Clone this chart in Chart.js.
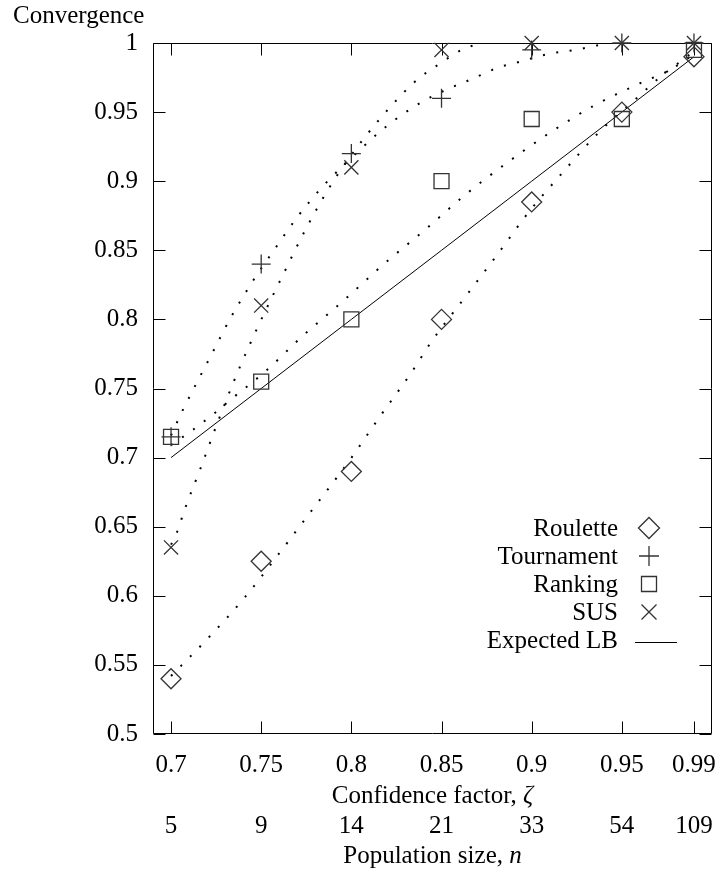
<!DOCTYPE html>
<html>
<head>
<meta charset="utf-8">
<script src="https://cdn.jsdelivr.net/npm/chart.js@4.4.1/dist/chart.umd.min.js"></script>
<style>
  html, body { margin: 0; padding: 0; background: #fff; }
  #wrap { width: 717px; height: 875px; }
</style>
</head>
<body>
<div id="wrap"><canvas id="convChart" width="717" height="875"></canvas></div>
<script>
// x positions (confidence factor) and the matching population sizes
const confidence = [0.7, 0.75, 0.8, 0.85, 0.9, 0.95, 0.99];
const confidenceLabels = ['0.7', '0.75', '0.8', '0.85', '0.9', '0.95', '0.99'];
const populationLabels = ['5', '9', '14', '21', '33', '54', '109'];
const yTickValues = [0.5, 0.55, 0.6, 0.65, 0.7, 0.75, 0.8, 0.85, 0.9, 0.95, 1];
const yTickLabels = ['0.5', '0.55', '0.6', '0.65', '0.7', '0.75', '0.8', '0.85', '0.9', '0.95', '1'];

// measured convergence per selection scheme
const roulette   = [0.54, 0.625, 0.69, 0.80, 0.885, 0.95, 0.99];
const tournament = [0.715, 0.84, 0.92, 0.96, 0.995, 1.0, 1.0];
const ranking    = [0.715, 0.755, 0.80, 0.90, 0.945, 0.945, 0.995];
const sus        = [0.635, 0.81, 0.91, 0.995, 1.0, 1.0, 1.0];
const expectedLB = [0.70, 0.75, 0.80, 0.85, 0.90, 0.95, 0.99];

// fitted trend curves, [confidence, convergence]
const rouletteFit = [
  [0.700, 0.542], [0.721, 0.570], [0.741, 0.599], [0.759, 0.629], [0.777, 0.660],
  [0.799, 0.698], [0.816, 0.730], [0.833, 0.761], [0.845, 0.785], [0.863, 0.816],
  [0.881, 0.847], [0.898, 0.877], [0.917, 0.906], [0.937, 0.935], [0.959, 0.961],
  [0.970, 0.974], [0.988, 0.992]
];
const rankingFit = [
  [0.700, 0.709], [0.712, 0.720], [0.723, 0.731], [0.735, 0.744], [0.752, 0.762],
  [0.773, 0.788], [0.796, 0.814], [0.818, 0.840], [0.841, 0.865], [0.863, 0.890],
  [0.886, 0.913], [0.910, 0.935], [0.935, 0.955], [0.962, 0.972], [0.976, 0.980],
  [0.988, 0.990]
];
const susFit = [
  [0.700, 0.637], [0.703, 0.645], [0.708, 0.664], [0.716, 0.691], [0.726, 0.726],
  [0.737, 0.762], [0.749, 0.797], [0.762, 0.832], [0.775, 0.866], [0.790, 0.900],
  [0.807, 0.931], [0.826, 0.960], [0.837, 0.974], [0.849, 0.985], [0.861, 0.995],
  [0.872, 1.000]
];
const tournamentFit = [
  [0.700, 0.716], [0.706, 0.733], [0.713, 0.751], [0.723, 0.776], [0.733, 0.801],
  [0.745, 0.827], [0.757, 0.850], [0.770, 0.874], [0.784, 0.896], [0.805, 0.923],
  [0.816, 0.936], [0.828, 0.948], [0.840, 0.958], [0.854, 0.967], [0.867, 0.974],
  [0.881, 0.982], [0.895, 0.987], [0.909, 0.992], [0.924, 0.995], [0.939, 0.999]
];

const legendItems = [
  { label: 'Roulette', style: 'rectRot', r: 10.5 },
  { label: 'Tournament', style: 'cross', r: 10 },
  { label: 'Ranking', style: 'rect', r: 10.6 },
  { label: 'SUS', style: 'crossRot', r: 10.6 },
  { label: 'Expected LB', style: 'line' }
];

const FAMILY = "'Liberation Serif', 'Times New Roman', serif";
const FSIZE = 25;
const MARK = '#333';

const toXY = (xs, ys) => xs.map((x, i) => ({ x: x, y: ys[i] }));
const pairs = arr => arr.map(p => ({ x: p[0], y: p[1] }));

function markerSet(label, ys, style, radius) {
  return {
    label: label,
    data: toXY(confidence, ys),
    showLine: false,
    pointStyle: style,
    pointRadius: radius,
    pointBorderColor: MARK,
    pointBackgroundColor: 'rgba(0,0,0,0)',
    pointBorderWidth: 1.3,
    clip: false,
    order: 0
  };
}

function dottedCurve(label, pts) {
  return {
    label: label,
    data: pairs(pts),
    showLine: true,
    borderColor: '#000',
    borderWidth: 2,
    borderDash: [2, 11.5],
    cubicInterpolationMode: 'monotone',
    pointRadius: 0,
    order: 2
  };
}

// draws one legend symbol by hand
function drawMarker(ctx, style, x, y, r) {
  ctx.beginPath();
  if (style === 'rectRot') {
    ctx.moveTo(x - r, y); ctx.lineTo(x, y - r); ctx.lineTo(x + r, y); ctx.lineTo(x, y + r); ctx.closePath();
  } else if (style === 'rect') {
    const s = Math.SQRT1_2 * r;
    ctx.rect(x - s, y - s, 2 * s, 2 * s);
  } else if (style === 'cross') {
    ctx.moveTo(x - r, y); ctx.lineTo(x + r, y); ctx.moveTo(x, y - r); ctx.lineTo(x, y + r);
  } else if (style === 'crossRot') {
    const s = Math.SQRT1_2 * r;
    ctx.moveTo(x - s, y - s); ctx.lineTo(x + s, y + s); ctx.moveTo(x + s, y - s); ctx.lineTo(x - s, y + s);
  }
  ctx.stroke();
}

function drawMixed(ctx, parts, cx, y) {
  let total = 0;
  parts.forEach(p => { ctx.font = p[1]; total += ctx.measureText(p[0]).width; });
  let x = cx - total / 2;
  ctx.textAlign = 'left';
  parts.forEach(p => { ctx.font = p[1]; ctx.fillText(p[0], x, y); x += ctx.measureText(p[0]).width; });
}

// keep the plot box fixed instead of shrinking it for edge labels
const noEdgePadding = s => {
  s.paddingLeft = 0; s.paddingRight = 0; s.paddingTop = 0; s.paddingBottom = 0;
};

const frameAndTicks = {
  id: 'frameAndTicks',
  beforeDatasetsDraw(chart) {
    const { ctx, chartArea: a, scales } = chart;
    const L = Math.round(a.left) + 0.5, R = Math.round(a.right) - 0.5;
    const T = Math.round(a.top) + 0.5, B = Math.round(a.bottom) - 0.5;
    ctx.save();
    ctx.strokeStyle = '#000';
    ctx.lineWidth = 1;
    ctx.beginPath();
    ctx.rect(L, T, R - L, B - T);
    scales.y.ticks.forEach(t => {
      const py = Math.round(scales.y.getPixelForValue(t.value)) + 0.5;
      ctx.moveTo(L, py); ctx.lineTo(L + 12, py);
      ctx.moveTo(R, py); ctx.lineTo(R - 12, py);
    });
    scales.x.ticks.forEach(t => {
      const px = Math.round(scales.x.getPixelForValue(t.value)) + 0.5;
      ctx.moveTo(px, B); ctx.lineTo(px, B - 12);
      ctx.moveTo(px, T); ctx.lineTo(px, T + 12);
    });
    ctx.stroke();
    ctx.restore();
  }
};

const labelsAndLegend = {
  id: 'labelsAndLegend',
  afterDraw(chart) {
    const { ctx, chartArea: a, scales } = chart;
    const roman = FSIZE + 'px ' + FAMILY;
    const italic = 'italic ' + FSIZE + 'px ' + FAMILY;
    ctx.save();
    ctx.fillStyle = '#000';
    ctx.textBaseline = 'alphabetic';
    ctx.font = roman;
    ctx.textAlign = 'left';
    ctx.fillText('Convergence', 13, 23);

    const cx = (a.left + a.right) / 2;
    ctx.textBaseline = 'middle';
    drawMixed(ctx, [['Confidence factor, ', roman], ['\u03B6', italic]], cx, scales.x.bottom - 15);
    drawMixed(ctx, [['Population size, ', roman], ['n', italic]], cx, scales.x2.bottom - 19);

    // key, bottom right inside the plot
    ctx.textBaseline = 'alphabetic';
    ctx.strokeStyle = MARK;
    ctx.lineWidth = 1.3;
    legendItems.forEach((it, i) => {
      const base = 536 + 28 * i;
      ctx.font = roman;
      ctx.textAlign = 'right';
      ctx.fillText(it.label, 618, base);
      if (it.style === 'line') {
        ctx.save();
        ctx.strokeStyle = '#000';
        ctx.lineWidth = 1;
        ctx.beginPath();
        ctx.moveTo(635, base - 5.5); ctx.lineTo(677, base - 5.5);
        ctx.stroke();
        ctx.restore();
      } else {
        drawMarker(ctx, it.style, 649, base - 8, it.r);
      }
    });
    ctx.restore();
  }
};

const tickFont = { family: FAMILY, size: FSIZE };

new Chart(document.getElementById('convChart'), {
  type: 'scatter',
  data: {
    datasets: [
      markerSet('Roulette', roulette, 'rectRot', 10),
      markerSet('Tournament', tournament, 'cross', 9.5),
      markerSet('Ranking', ranking, 'rect', 10.6),
      markerSet('SUS', sus, 'crossRot', 10),
      {
        label: 'Expected LB',
        data: toXY(confidence, expectedLB),
        showLine: true,
        borderColor: '#000',
        borderWidth: 1,
        pointRadius: 0,
        order: 1
      },
      dottedCurve('Roulette fit', rouletteFit),
      dottedCurve('Tournament fit', tournamentFit),
      dottedCurve('Ranking fit', rankingFit),
      dottedCurve('SUS fit', susFit)
    ]
  },
  options: {
    responsive: false,
    animation: false,
    events: [],
    layout: { autoPadding: false, padding: { top: 43, right: 5, left: 0, bottom: 0 } },
    plugins: {
      legend: { display: false },
      tooltip: { enabled: false }
    },
    scales: {
      x: {
        type: 'linear',
        position: 'bottom',
        weight: 1,
        min: 0.69,
        max: 1.0,
        grid: { display: false, drawTicks: false },
        border: { display: false },
        afterBuildTicks: s => { s.ticks = confidence.map(v => ({ value: v })); },
        afterFit: s => { s.height = 77; noEdgePadding(s); },
        ticks: {
          autoSkip: false, maxRotation: 0, minRotation: 0, padding: 16,
          color: '#000', font: tickFont,
          callback: (v, i) => confidenceLabels[i]
        }
      },
      x2: {
        type: 'linear',
        position: 'bottom',
        weight: 2,
        min: 0.69,
        max: 1.0,
        grid: { display: false, drawTicks: false },
        border: { display: false },
        afterBuildTicks: s => { s.ticks = confidence.map(v => ({ value: v })); },
        afterFit: s => { s.height = 64; noEdgePadding(s); },
        ticks: {
          autoSkip: false, maxRotation: 0, minRotation: 0, padding: 0,
          color: '#000', font: tickFont,
          callback: (v, i) => populationLabels[i]
        }
      },
      y: {
        type: 'linear',
        position: 'left',
        min: 0.5,
        max: 1.0,
        grid: { display: false, drawTicks: false },
        border: { display: false },
        afterBuildTicks: s => { s.ticks = yTickValues.map(v => ({ value: v })); },
        afterFit: s => { s.width = 153; noEdgePadding(s); },
        ticks: {
          autoSkip: false, padding: 15,
          color: '#000', font: tickFont,
          callback: (v, i) => yTickLabels[i]
        }
      }
    }
  },
  plugins: [frameAndTicks, labelsAndLegend]
});
</script>
</body>
</html>
